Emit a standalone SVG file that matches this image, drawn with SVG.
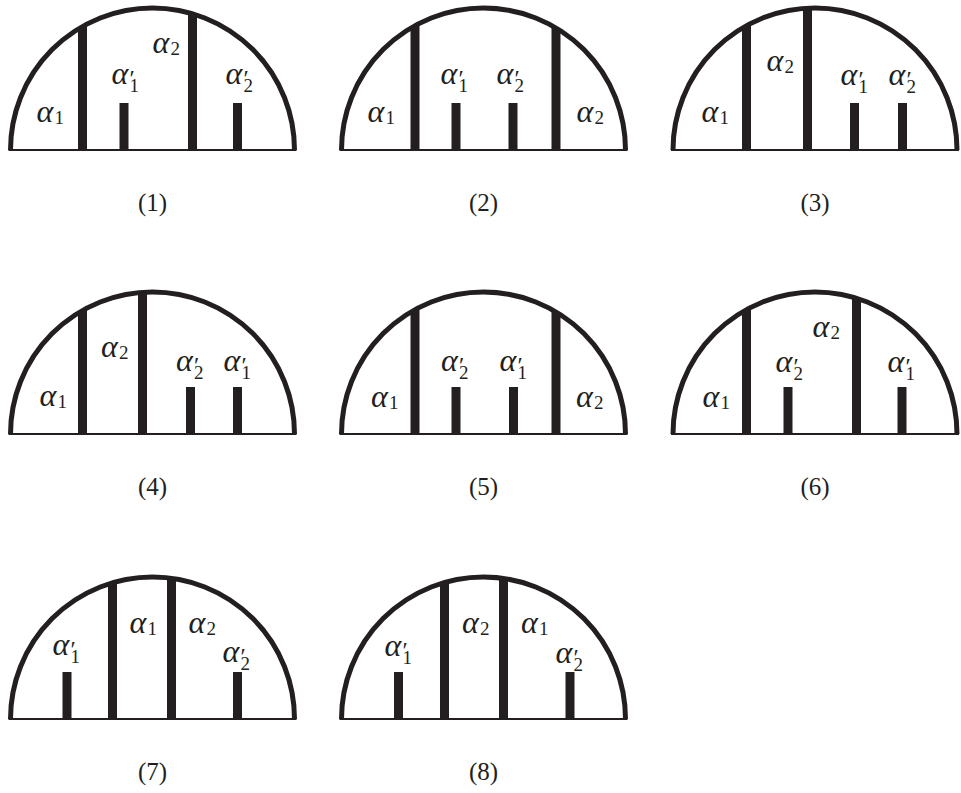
<svg xmlns="http://www.w3.org/2000/svg" width="961" height="793" viewBox="0 0 961 793">
<style>
.arc{fill:none;stroke:#231f20;stroke-width:5}
.base{stroke:#231f20;stroke-width:2}
.bar{fill:#231f20}
.a{font-family:"Liberation Serif","DejaVu Serif",serif;font-style:italic;font-size:32px;fill:#231f20}
.s{font-style:normal;font-size:19px}
.p{font-style:normal;font-size:24px}
.n{font-family:"Liberation Serif",serif;font-size:25px;fill:#231f20;text-anchor:middle}
</style>
<defs>
<clipPath id="dome"><circle cx="0" cy="0" r="142"/></clipPath>
<path id="domeArc" d="M-142 0A142 142 0 0 1 142 0"/>
</defs>
<g id="connectors"/>

<g id="panel1" transform="translate(152.5,150)">
<use href="#domeArc" class="arc"/>
<line class="base" x1="-144" y1="0" x2="144" y2="0"/>
<g clip-path="url(#dome)">
<rect class="bar" x="-74.5" y="-150" width="9" height="150"/>
<rect class="bar" x="35.5" y="-150" width="9" height="150"/>
<rect class="bar" x="-33" y="-47" width="9" height="47"/>
<rect class="bar" x="80.5" y="-47" width="9" height="47"/>
</g>
<text class="a" x="-116" y="-28">α<tspan class="s" x="-98" y="-26">1</tspan></text>
<text class="a" x="-41" y="-66">α<tspan class="p" x="-23" y="-64">′</tspan><tspan class="s" x="-23" y="-58">1</tspan></text>
<text class="a" x="0" y="-97">α<tspan class="s" x="18" y="-95">2</tspan></text>
<text class="a" x="73" y="-66">α<tspan class="p" x="91" y="-64">′</tspan><tspan class="s" x="91" y="-58">2</tspan></text>
<text class="n" x="0" y="61">(1)</text>
</g>

<g id="panel2" transform="translate(483.5,150)">
<use href="#domeArc" class="arc"/>
<line class="base" x1="-144" y1="0" x2="144" y2="0"/>
<g clip-path="url(#dome)">
<rect class="bar" x="-73" y="-150" width="9" height="150"/>
<rect class="bar" x="68" y="-150" width="9" height="150"/>
<rect class="bar" x="-32" y="-47" width="9" height="47"/>
<rect class="bar" x="25" y="-47" width="9" height="47"/>
</g>
<text class="a" x="-116" y="-28">α<tspan class="s" x="-98" y="-26">1</tspan></text>
<text class="a" x="-43" y="-66">α<tspan class="p" x="-25" y="-64">′</tspan><tspan class="s" x="-25" y="-58">1</tspan></text>
<text class="a" x="13" y="-66">α<tspan class="p" x="31" y="-64">′</tspan><tspan class="s" x="31" y="-58">2</tspan></text>
<text class="a" x="93" y="-28">α<tspan class="s" x="111" y="-26">2</tspan></text>
<text class="n" x="0" y="61">(2)</text>
</g>

<g id="panel3" transform="translate(815,150)">
<use href="#domeArc" class="arc"/>
<line class="base" x1="-144" y1="0" x2="144" y2="0"/>
<g clip-path="url(#dome)">
<rect class="bar" x="-73" y="-150" width="9" height="150"/>
<rect class="bar" x="-12" y="-150" width="9" height="150"/>
<rect class="bar" x="35" y="-47" width="9" height="47"/>
<rect class="bar" x="83" y="-47" width="9" height="47"/>
</g>
<text class="a" x="-113.5" y="-28">α<tspan class="s" x="-95.5" y="-26">1</tspan></text>
<text class="a" x="-48.5" y="-79">α<tspan class="s" x="-30.5" y="-77">2</tspan></text>
<text class="a" x="25.5" y="-65">α<tspan class="p" x="43.5" y="-63">′</tspan><tspan class="s" x="43.5" y="-57">1</tspan></text>
<text class="a" x="73.5" y="-65">α<tspan class="p" x="91.5" y="-63">′</tspan><tspan class="s" x="91.5" y="-57">2</tspan></text>
<text class="n" x="0" y="61">(3)</text>
</g>

<g id="panel4" transform="translate(152.5,434)">
<use href="#domeArc" class="arc"/>
<line class="base" x1="-144" y1="0" x2="144" y2="0"/>
<g clip-path="url(#dome)">
<rect class="bar" x="-74.5" y="-150" width="9" height="150"/>
<rect class="bar" x="-14.5" y="-150" width="9" height="150"/>
<rect class="bar" x="33.5" y="-47" width="9" height="47"/>
<rect class="bar" x="80.5" y="-47" width="9" height="47"/>
</g>
<text class="a" x="-113" y="-28">α<tspan class="s" x="-95" y="-26">1</tspan></text>
<text class="a" x="-51.5" y="-77">α<tspan class="s" x="-33.5" y="-75">2</tspan></text>
<text class="a" x="23.5" y="-63">α<tspan class="p" x="41.5" y="-61">′</tspan><tspan class="s" x="41.5" y="-55">2</tspan></text>
<text class="a" x="71" y="-63">α<tspan class="p" x="89" y="-61">′</tspan><tspan class="s" x="89" y="-55">1</tspan></text>
<text class="n" x="0" y="61">(4)</text>
</g>

<g id="panel5" transform="translate(483.5,434)">
<use href="#domeArc" class="arc"/>
<line class="base" x1="-144" y1="0" x2="144" y2="0"/>
<g clip-path="url(#dome)">
<rect class="bar" x="-73" y="-150" width="9" height="150"/>
<rect class="bar" x="68" y="-150" width="9" height="150"/>
<rect class="bar" x="-32" y="-47" width="9" height="47"/>
<rect class="bar" x="25.5" y="-47" width="9" height="47"/>
</g>
<text class="a" x="-112.5" y="-27">α<tspan class="s" x="-94.5" y="-25">1</tspan></text>
<text class="a" x="-42.5" y="-63">α<tspan class="p" x="-24.5" y="-61">′</tspan><tspan class="s" x="-24.5" y="-55">2</tspan></text>
<text class="a" x="16" y="-63">α<tspan class="p" x="34" y="-61">′</tspan><tspan class="s" x="34" y="-55">1</tspan></text>
<text class="a" x="92.5" y="-27">α<tspan class="s" x="110.5" y="-25">2</tspan></text>
<text class="n" x="0" y="61">(5)</text>
</g>

<g id="panel6" transform="translate(815,434)">
<use href="#domeArc" class="arc"/>
<line class="base" x1="-144" y1="0" x2="144" y2="0"/>
<g clip-path="url(#dome)">
<rect class="bar" x="-73" y="-150" width="9" height="150"/>
<rect class="bar" x="37" y="-150" width="9" height="150"/>
<rect class="bar" x="-31.5" y="-47" width="9" height="47"/>
<rect class="bar" x="82.5" y="-47" width="9" height="47"/>
</g>
<text class="a" x="-112.5" y="-27">α<tspan class="s" x="-94.5" y="-25">1</tspan></text>
<text class="a" x="-39.5" y="-62">α<tspan class="p" x="-21.5" y="-60">′</tspan><tspan class="s" x="-21.5" y="-54">2</tspan></text>
<text class="a" x="-2.5" y="-97">α<tspan class="s" x="15.5" y="-95">2</tspan></text>
<text class="a" x="72.5" y="-62">α<tspan class="p" x="90.5" y="-60">′</tspan><tspan class="s" x="90.5" y="-54">1</tspan></text>
<text class="n" x="0" y="61">(6)</text>
</g>

<g id="panel7" transform="translate(152.5,719)">
<use href="#domeArc" class="arc"/>
<line class="base" x1="-144" y1="0" x2="144" y2="0"/>
<g clip-path="url(#dome)">
<rect class="bar" x="-44.5" y="-150" width="9" height="150"/>
<rect class="bar" x="14.5" y="-150" width="9" height="150"/>
<rect class="bar" x="-90" y="-47" width="9" height="47"/>
<rect class="bar" x="80.5" y="-47" width="9" height="47"/>
</g>
<text class="a" x="-100" y="-64">α<tspan class="p" x="-82" y="-62">′</tspan><tspan class="s" x="-82" y="-56">1</tspan></text>
<text class="a" x="-23" y="-86">α<tspan class="s" x="-5" y="-84">1</tspan></text>
<text class="a" x="36" y="-86">α<tspan class="s" x="54" y="-84">2</tspan></text>
<text class="a" x="70" y="-57">α<tspan class="p" x="88" y="-55">′</tspan><tspan class="s" x="88" y="-49">2</tspan></text>
<text class="n" x="0" y="61">(7)</text>
</g>

<g id="panel8" transform="translate(483.5,719)">
<use href="#domeArc" class="arc"/>
<line class="base" x1="-144" y1="0" x2="144" y2="0"/>
<g clip-path="url(#dome)">
<rect class="bar" x="-43.5" y="-150" width="9" height="150"/>
<rect class="bar" x="15.5" y="-150" width="9" height="150"/>
<rect class="bar" x="-89.5" y="-47" width="9" height="47"/>
<rect class="bar" x="82" y="-47" width="9" height="47"/>
</g>
<text class="a" x="-99" y="-63">α<tspan class="p" x="-81" y="-61">′</tspan><tspan class="s" x="-81" y="-55">1</tspan></text>
<text class="a" x="-21.5" y="-86">α<tspan class="s" x="-3.5" y="-84">2</tspan></text>
<text class="a" x="37.5" y="-86">α<tspan class="s" x="55.5" y="-84">1</tspan></text>
<text class="a" x="72" y="-56">α<tspan class="p" x="90" y="-54">′</tspan><tspan class="s" x="90" y="-48">2</tspan></text>
<text class="n" x="0" y="61">(8)</text>
</g>
</svg>
